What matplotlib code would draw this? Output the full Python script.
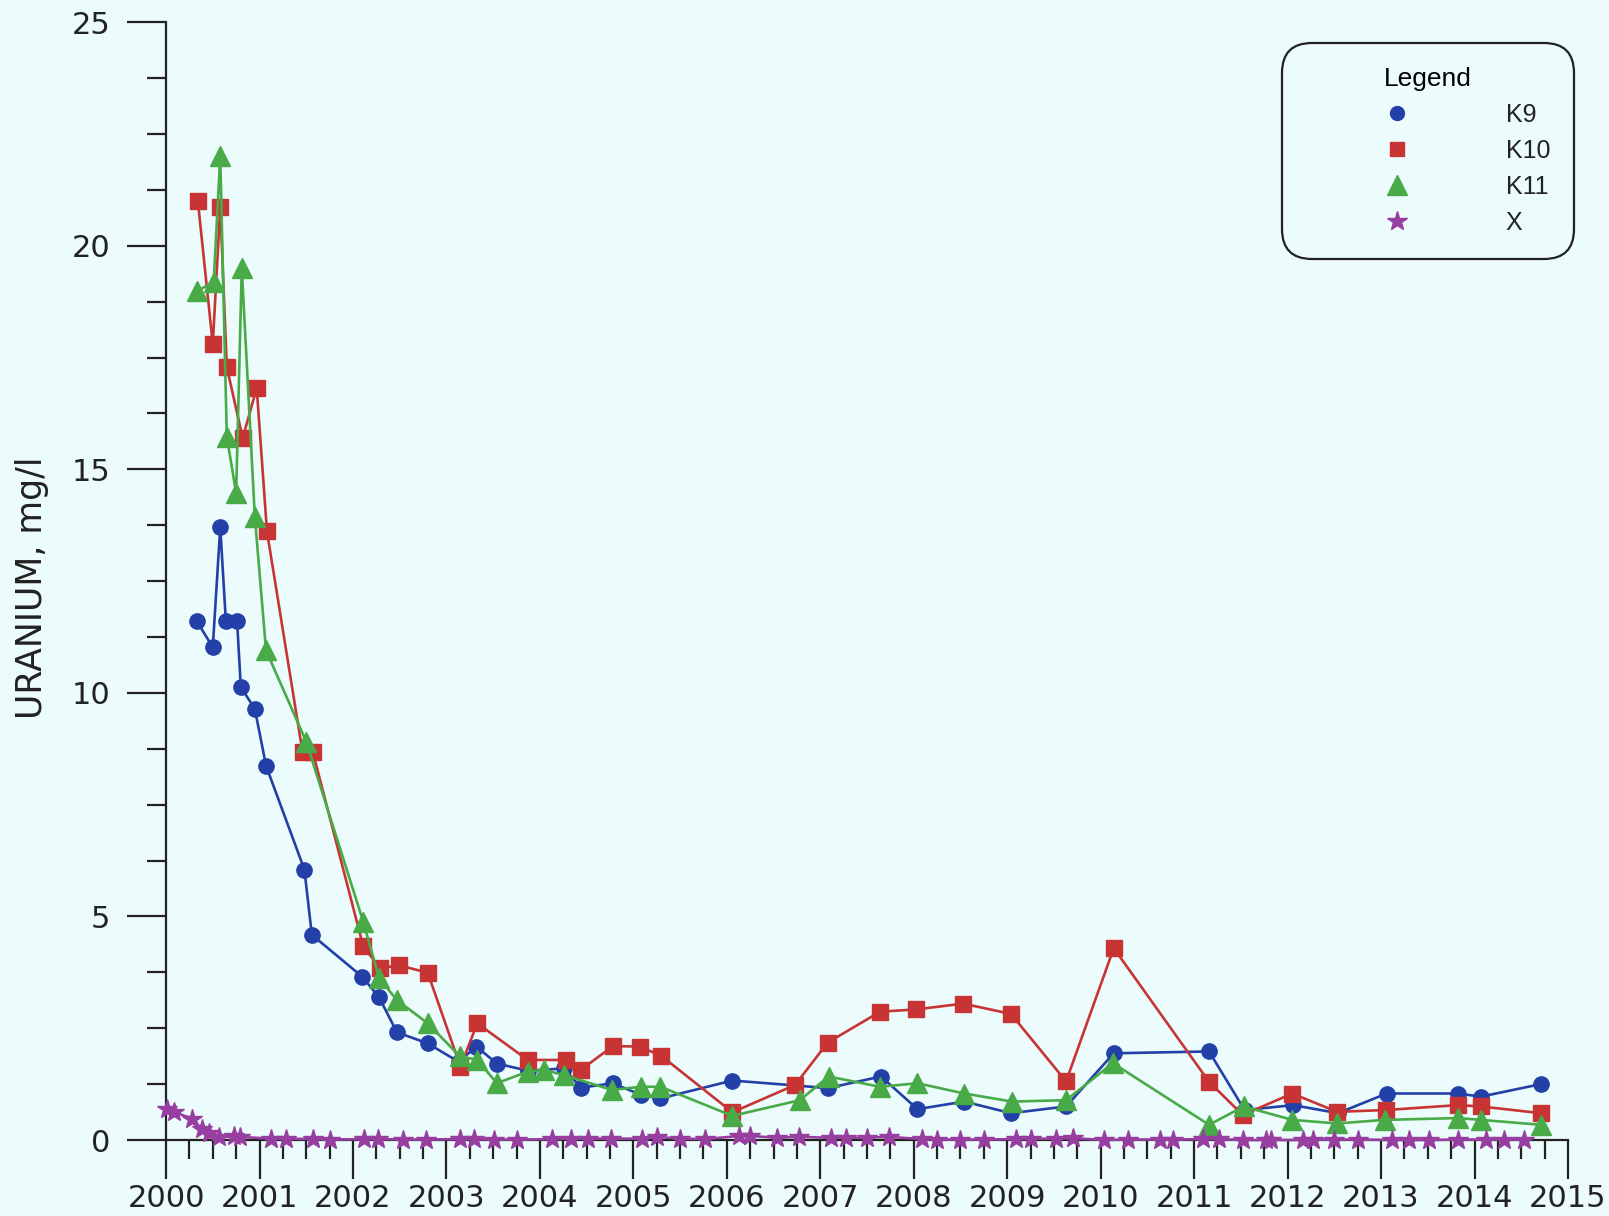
import matplotlib
matplotlib.use("Agg")
import matplotlib.pyplot as plt
from matplotlib.lines import Line2D
from matplotlib.ticker import MultipleLocator, FixedLocator

# K9 (blue circles)
k9_year = [2000.33, 2000.50, 2000.58, 2000.64, 2000.76, 2000.80, 2000.95, 2001.07,
           2001.48, 2001.56, 2002.10, 2002.28, 2002.47, 2002.80, 2003.13, 2003.32,
           2003.54, 2003.87, 2004.26, 2004.44, 2004.78, 2005.08, 2005.29, 2006.06,
           2006.73, 2007.08, 2007.65, 2008.04, 2008.54, 2009.04, 2009.63, 2010.14,
           2011.16, 2011.54, 2012.06, 2012.54, 2013.06, 2013.82, 2014.07, 2014.71]
k9_val = [11.60, 11.02, 13.71, 11.60, 11.60, 10.13, 9.64, 8.37,
          6.05, 4.59, 3.65, 3.19, 2.41, 2.16, 1.75, 2.09,
          1.71, 1.55, 1.60, 1.17, 1.27, 1.01, 0.93, 1.33,
          1.22, 1.16, 1.42, 0.69, 0.86, 0.60, 0.75, 1.94,
          1.98, 0.67, 0.78, 0.60, 1.04, 1.04, 0.97, 1.25]

# K10 (red squares)
k10_year = [2000.34, 2000.50, 2000.58, 2000.65, 2000.82, 2000.97, 2001.08, 2001.46,
            2001.57, 2002.11, 2002.29, 2002.49, 2002.80, 2003.15, 2003.33, 2003.87,
            2004.28, 2004.44, 2004.78, 2005.07, 2005.30, 2006.06, 2006.73, 2007.08,
            2007.64, 2008.02, 2008.53, 2009.04, 2009.63, 2010.14, 2011.16, 2011.52,
            2012.05, 2012.53, 2013.05, 2013.82, 2014.07, 2014.71]
k10_val = [21.01, 17.80, 20.87, 17.29, 15.70, 16.82, 13.61, 8.68,
           8.68, 4.33, 3.84, 3.91, 3.74, 1.64, 2.61, 1.79,
           1.79, 1.57, 2.10, 2.09, 1.88, 0.62, 1.23, 2.18,
           2.87, 2.92, 3.05, 2.82, 1.31, 4.29, 1.30, 0.56,
           1.04, 0.63, 0.67, 0.78, 0.75, 0.60]

# K11 (green triangles)
k11_year = [2000.33, 2000.51, 2000.58, 2000.65, 2000.75, 2000.81, 2000.95, 2001.07,
            2001.50, 2002.11, 2002.28, 2002.47, 2002.80, 2003.14, 2003.33, 2003.54,
            2003.87, 2004.04, 2004.26, 2004.77, 2005.08, 2005.29, 2006.06, 2006.78,
            2007.09, 2007.64, 2008.04, 2008.54, 2009.05, 2009.63, 2010.13, 2011.16,
            2011.53, 2012.05, 2012.53, 2013.04, 2013.82, 2014.07, 2014.71]
k11_val = [18.98, 19.20, 22.00, 15.73, 14.47, 19.50, 13.94, 10.95,
           8.91, 4.88, 3.62, 3.13, 2.61, 1.88, 1.79, 1.27,
           1.53, 1.57, 1.45, 1.12, 1.19, 1.19, 0.54, 0.89,
           1.42, 1.19, 1.27, 1.04, 0.86, 0.89, 1.72, 0.34,
           0.75, 0.45, 0.37, 0.45, 0.49, 0.45, 0.34]

# X (purple stars)
x_year = [2000.01, 2000.09, 2000.28, 2000.38, 2000.46, 2000.57, 2000.73, 2000.79,
          2001.12, 2001.28, 2001.57, 2001.75, 2002.12, 2002.27, 2002.53, 2002.78,
          2003.14, 2003.29, 2003.51, 2003.76, 2004.13, 2004.33, 2004.52, 2004.76,
          2005.09, 2005.25, 2005.50, 2005.77, 2006.13, 2006.25, 2006.54, 2006.77,
          2007.11, 2007.27, 2007.50, 2007.73, 2008.09, 2008.25, 2008.50, 2008.75,
          2009.09, 2009.25, 2009.52, 2009.70, 2010.04, 2010.29, 2010.64, 2010.77,
          2011.09, 2011.27, 2011.52, 2011.77, 2011.82, 2012.16, 2012.27, 2012.50,
          2012.75, 2013.12, 2013.30, 2013.51, 2013.82, 2014.12, 2014.32, 2014.53]
x_val = [0.70, 0.62, 0.48, 0.25, 0.15, 0.06, 0.08, 0.07,
         0.03, 0.03, 0.02, 0.01, 0.02, 0.02, 0.01, 0.01,
         0.02, 0.02, 0.01, 0.01, 0.02, 0.03, 0.03, 0.03,
         0.03, 0.07, 0.03, 0.02, 0.09, 0.09, 0.05, 0.07,
         0.05, 0.05, 0.05, 0.07, 0.02, 0.01, 0.01, 0.01,
         0.02, 0.03, 0.03, 0.04, 0.00, 0.01, 0.01, 0.01,
         0.02, 0.02, 0.00, 0.00, 0.00, 0.00, 0.01, 0.01,
         0.01, 0.00, 0.00, 0.00, 0.01, 0.01, 0.01, 0.01]

bg = "#ecfbfb"
c_blue = "#2340a8"
c_red = "#c83434"
c_green = "#48ab48"
c_purple = "#973ea0"
ink = "#222222"

fig = plt.figure(figsize=(16.09, 12.16), dpi=100, facecolor=bg)
ax = fig.add_axes([0.1032, 0.0625, 0.8713, 0.9192], facecolor=bg)

ax.plot(k9_year, k9_val, color=c_blue, lw=1.9, marker="o", ms=11, clip_on=False, zorder=3)
ax.plot(k10_year, k10_val, color=c_red, lw=1.9, marker="s", ms=11, clip_on=False, zorder=4)
ax.plot(k11_year, k11_val, color=c_green, lw=1.9, marker="^", ms=15, clip_on=False, zorder=5)
ax.plot(x_year, x_val, color=c_purple, lw=1.9, marker="*", ms=15, clip_on=False, zorder=6)

ax.set_xlim(2000, 2015)
ax.set_ylim(0, 25)
ax.xaxis.set_major_locator(FixedLocator(range(2000, 2016)))
ax.xaxis.set_minor_locator(MultipleLocator(0.25))
ax.yaxis.set_major_locator(MultipleLocator(5))
ax.yaxis.set_minor_locator(MultipleLocator(1.25))
ax.set_xticklabels([str(y) for y in range(2000, 2016)])

for s in ["top", "right"]:
    ax.spines[s].set_visible(False)
for s in ["left", "bottom"]:
    ax.spines[s].set_linewidth(1.6)
    ax.spines[s].set_color(ink)

ax.tick_params(which="major", direction="out", length=28, width=1.6, color=ink,
               labelsize=22, labelcolor=ink)
ax.tick_params(which="minor", direction="out", length=14, width=1.6, color=ink)
ax.tick_params(axis="y", which="major", pad=12)
ax.tick_params(axis="x", which="major", pad=4)

ax.set_ylabel("URANIUM, mg/l", fontsize=25, color=ink)
ax.yaxis.set_label_coords(-0.0835, 0.494)

handles = [
    Line2D([], [], ls="none", marker="o", ms=10, color=c_blue),
    Line2D([], [], ls="none", marker="s", ms=10, color=c_red),
    Line2D([], [], ls="none", marker="^", ms=14, color=c_green),
    Line2D([], [], ls="none", marker="*", ms=15, color=c_purple),
]
leg = ax.legend(handles, ["K9", "K10", "K11", "X"], title="Legend",
                loc="upper right", bbox_to_anchor=(1574 / 1609, 1 - 43 / 1216),
                bbox_transform=fig.transFigure, borderaxespad=0,
                prop={"family": "Liberation Sans", "size": 18},
                title_fontproperties={"family": "Liberation Sans", "size": 19},
                handlelength=7.36, handletextpad=0.66, labelspacing=0.48,
                borderpad=0.95, fancybox=True, framealpha=1, facecolor=bg,
                edgecolor=ink)
leg.get_frame().set_linewidth(1.6)
leg.get_frame().set_boxstyle("round,pad=0,rounding_size=1.2")
for t in leg.get_texts():
    t.set_color(ink)

fig.savefig("out.png", dpi=100, facecolor=bg)
